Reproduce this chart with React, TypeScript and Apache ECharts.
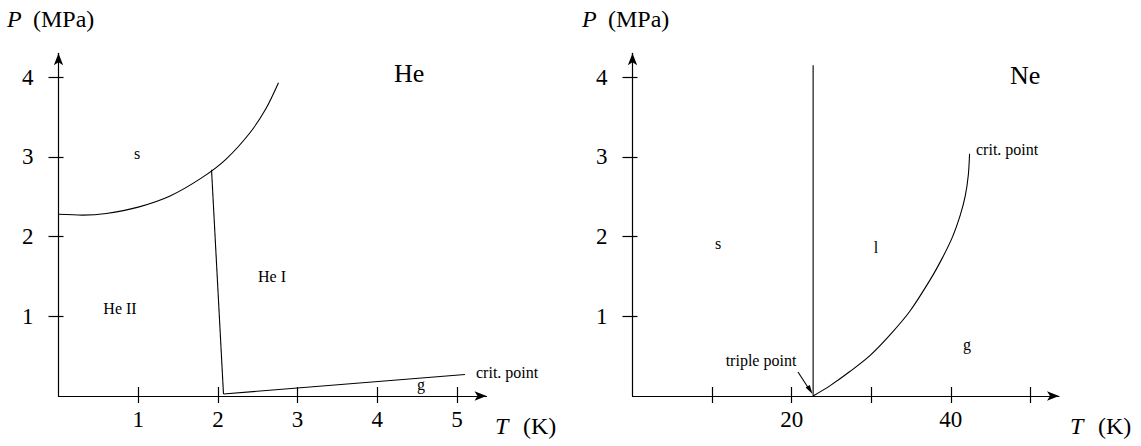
import React, { useEffect, useRef } from "react";
import * as echarts from "echarts";

// Helium phase boundaries (T in K, P in MPa)
const heMeltT = [0, 0.3, 0.6, 1.0, 1.4, 1.8, 2.1, 2.4, 2.6, 2.76];
const heMeltP = [2.28, 2.27, 2.29, 2.37, 2.51, 2.74, 2.97, 3.3, 3.6, 3.93];
const heLambdaT = [1.92, 2.07];
const heLambdaP = [2.84, 0.025];
const heVapT = [2.07, 5.1];
const heVapP = [0.025, 0.27];

// Neon phase boundaries
const neMeltT = [22.7, 22.7];
const neMeltP = [0, 4.15];
const neVapT = [22.7, 24.84, 27.36, 29.87, 32.39, 34.9, 37.42, 38.93, 40.19, 41.19, 41.82, 42.2, 42.36];
const neVapP = [0, 0.13, 0.31, 0.51, 0.77, 1.07, 1.46, 1.73, 1.99, 2.27, 2.51, 2.77, 3.04];

// ticks
const heXTicks = [1, 2, 3, 4, 5];
const heXLabels = [1, 2, 3, 4, 5];
const pTicks = [1, 2, 3, 4];
const neXTicks = [10, 20, 30, 40, 50];
const neXLabels = [20, 40];

const FONT = "Liberation Serif";

const zip = (a: number[], b: number[]) => a.map((v, i) => [v, b[i]]);

export default function App() {
  const ref = useRef<HTMLDivElement>(null);
  useEffect(() => {
    if (!ref.current) return;
    const chart = echarts.init(ref.current, null, { renderer: "svg" });
    const black = "#000";
    const lineAxis = (
      gridIndex: number,
      max: number,
      ticks: number[],
      labels: number[],
      isX: boolean
    ) => ({
      type: "value",
      gridIndex,
      min: 0,
      max,
      position: isX ? "bottom" : "left",
      axisLine: {
        show: true,
        onZero: false,
        symbol: ["none", "arrow"],
        symbolSize: [7, 12],
        lineStyle: { color: black, width: 1.2 },
      },
      axisTick: {
        show: true,
        customValues: ticks,
        inside: false,
        length: isX ? 7 : 10,
        lineStyle: { color: black, width: 1.2 },
      },
      axisLabel: {
        show: true,
        customValues: labels,
        color: black,
        fontFamily: FONT,
        fontSize: 23,
        margin: isX ? 12 : 25,
      },
      splitLine: { show: false },
    });
    const innerAxis = (gridIndex: number, max: number, ticks: number[], isX: boolean) => ({
      type: "value",
      gridIndex,
      min: 0,
      max,
      position: isX ? "bottom" : "left",
      axisLine: { show: false, onZero: false },
      axisTick: {
        show: true,
        customValues: ticks,
        inside: true,
        length: isX ? 9 : 5,
        lineStyle: { color: black, width: 1.2 },
      },
      axisLabel: { show: false },
      splitLine: { show: false },
    });
    const ln = (data: number[][], xi: number, yi: number, smooth: number | boolean) => ({
      type: "line",
      xAxisIndex: xi,
      yAxisIndex: yi,
      data,
      showSymbol: false,
      smooth,
      lineStyle: { color: black, width: 1.1 },
      silent: true,
    });
    const txt = (
      text: string,
      x: number,
      y: number,
      size: number,
      align = "center",
      italic = false
    ) => ({
      type: "text",
      x,
      y,
      silent: true,
      style: {
        text,
        fill: black,
        font: `${italic ? "italic " : ""}${size}px "${FONT}"`,
        textAlign: align,
        textVerticalAlign: "middle",
      },
    });

    chart.setOption({
      animation: false,
      grid: [
        { left: 58.5, top: 53.3, width: 428, height: 342.7 },
        { left: 632.5, top: 53.3, width: 426.5, height: 342.7 },
      ],
      xAxis: [
        lineAxis(0, 5.37, heXTicks, heXLabels, true),
        innerAxis(0, 5.37, heXTicks, true),
        lineAxis(1, 53.6, neXTicks, neXLabels, true),
        innerAxis(1, 53.6, neXTicks, true),
      ],
      yAxis: [
        lineAxis(0, 4.3, pTicks, pTicks, false),
        innerAxis(0, 4.3, pTicks, false),
        lineAxis(1, 4.3, pTicks, pTicks, false),
        innerAxis(1, 4.3, pTicks, false),
      ],
      series: [
        ln(zip(heMeltT, heMeltP), 0, 0, 0.3),
        ln(zip(heLambdaT, heLambdaP), 0, 0, false),
        ln(zip(heVapT, heVapP), 0, 0, false),
        ln(zip(neMeltT, neMeltP), 2, 2, false),
        ln(zip(neVapT, neVapP), 2, 2, 0.3),
      ],
      graphic: [
        txt("P", 7, 19, 24, "left", true),
        txt("(MPa)", 33, 19, 24, "left"),
        txt("T", 495, 426, 24, "left", true),
        txt("(K)", 523, 426, 24, "left"),
        txt("He", 394, 73, 26, "left"),
        txt("s", 137, 153, 16),
        txt("He II", 120, 308, 16),
        txt("He I", 272, 276, 16),
        txt("g", 421, 384, 16),
        txt("crit. point", 476, 372, 16, "left"),
        txt("P", 582, 19, 24, "left", true),
        txt("(MPa)", 608, 19, 24, "left"),
        txt("T", 1070, 426, 24, "left", true),
        txt("(K)", 1098, 426, 24, "left"),
        txt("Ne", 1010, 75, 26, "left"),
        txt("s", 718, 243, 16),
        txt("l", 876, 247, 16),
        txt("g", 967, 344, 16),
        txt("crit. point", 976, 149, 16, "left"),
        txt("triple point", 761, 360, 16),
        {
          type: "line",
          silent: true,
          shape: { x1: 798, y1: 372, x2: 809, y2: 389 },
          style: { stroke: black, lineWidth: 1.1 },
        },
        {
          type: "polygon",
          silent: true,
          shape: { points: [[812.5, 394], [805.6, 387.5], [809.8, 384.9]] },
          style: { fill: black },
        },
      ],
    });
    return () => chart.dispose();
  }, []);
  return (
    <div
      ref={ref}
      style={{ position: "absolute", left: 0, top: 0, width: 1141, height: 446, background: "#fff" }}
    />
  );
}
